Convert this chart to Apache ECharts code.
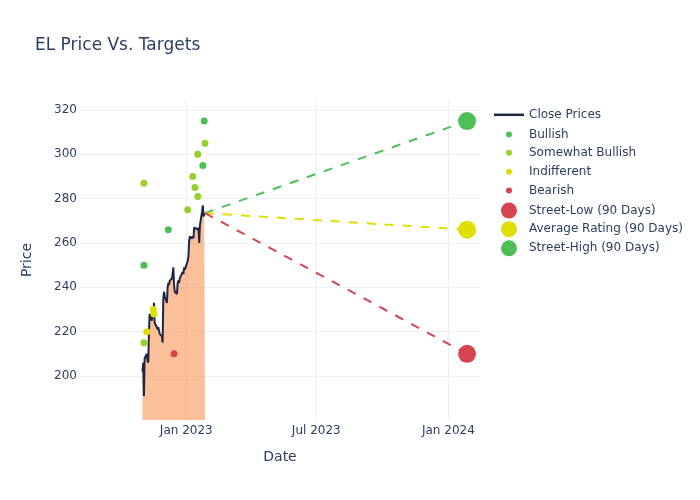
<!DOCTYPE html>
<html><head><meta charset="utf-8">
<script src="https://cdn.jsdelivr.net/npm/echarts@6/dist/echarts.min.js"></script>
<style>html,body{margin:0;padding:0;background:#fff}#c{width:700px;height:500px}</style>
</head><body><div id="c"></div>
<script>
const priceDates = ['2022-11-01','2022-11-02','2022-11-03','2022-11-04','2022-11-07','2022-11-08','2022-11-09','2022-11-10','2022-11-11','2022-11-14','2022-11-15','2022-11-16','2022-11-17','2022-11-18','2022-11-21','2022-11-22','2022-11-23','2022-11-25','2022-11-28','2022-11-29','2022-11-30','2022-12-01','2022-12-02','2022-12-05','2022-12-06','2022-12-07','2022-12-08','2022-12-09','2022-12-12','2022-12-13','2022-12-14','2022-12-15','2022-12-16','2022-12-19','2022-12-20','2022-12-21','2022-12-22','2022-12-23','2022-12-27','2022-12-28','2022-12-29','2022-12-30','2023-01-03','2023-01-04','2023-01-05','2023-01-06','2023-01-09','2023-01-10','2023-01-11','2023-01-12','2023-01-13','2023-01-17','2023-01-18','2023-01-19','2023-01-20','2023-01-23','2023-01-24','2023-01-25','2023-01-26','2023-01-27'];
const closePrices = [202,206,191,208,210,207,206,220,228,225,231,226,233,224,222,221,222,219,218,215,235,238,236,233,240,242,241,243,244,246,249,241,238,237,242,243,242,244,247,246,249,248,252,254,261,263,262,263,262,267,267,266,267,260,268,274,277,272,273,273.5];
const bullishDates = ['2022-11-03','2022-12-07','2023-01-24','2023-01-26'];
const bullishValues = [250,266,295,315];
const somewhatBullishDates = ['2022-11-03','2022-11-03','2023-01-03','2023-01-10','2023-01-13','2023-01-17','2023-01-17','2023-01-27'];
const somewhatBullishValues = [287,215,275,290,285,300,281,305];
const indifferentDates = ['2022-11-07','2022-11-16','2022-11-17'];
const indifferentValues = [220,230,228];
const bearishDates = ['2022-12-15'];
const bearishValues = [210];
const targetDate = '2024-01-27';
const streetLow = 210, averageRating = 266, streetHigh = 315;
const xTickDates = ['2023-01-01','2023-07-01','2024-01-01'];
const xTickLabels = ['Jan 2023','Jul 2023','Jan 2024'];
const yTicks = [200,220,240,260,280,300,320];

const ts = s => { const p = s.split('-').map(Number); return Date.UTC(p[0], p[1]-1, p[2]); };
const pair = (d, v) => d.map((x, i) => [ts(x), v[i]]);
const xTickVals = xTickDates.map(ts);
const lastD = ts(priceDates[priceDates.length-1]);
const lastP = closePrices[closePrices.length-1];

const FONT = 'DejaVu Sans';
const TXT = '#2a3f5f';
const GRID = '#EBF0F8';
const C_BULL = '#4DBF56', C_SB = '#97CF2B', C_IND = '#E0DE00', C_BEAR = '#D6454F', C_LINE = '#1d2744';

function leg(name, top, h, icon, left) {
  return { data: [name], left: left, top: top, itemWidth: 30, itemHeight: h, icon: icon, padding: 0,
    symbolKeepAspect: false,
    selectedMode: false, textStyle: { fontSize: 12, color: TXT, fontFamily: FONT } };
}

const option = {
  animation: false,
  backgroundColor: '#fff',
  title: { text: 'EL Price Vs. Targets', left: 35, top: 37, padding: 0,
    textStyle: { fontSize: 17, fontWeight: 'normal', color: TXT, fontFamily: FONT } },
  grid: { left: 80, right: 220, top: 100, bottom: 80, containLabel: false },
  legend: [
    leg('Close Prices', 108.8, 2.5, 'rect', 494),
    leg('Bullish', 128.5, 6, 'circle', 506),
    leg('Somewhat Bullish', 146.8, 6, 'circle', 506),
    leg('Indifferent', 165.8, 6, 'circle', 506),
    leg('Bearish', 184.5, 6, 'circle', 506),
    leg('Street-Low (90 Days)', 202.5, 16, 'circle', 501),
    leg('Average Rating (90 Days)', 221.2, 16, 'circle', 501),
    leg('Street-High (90 Days)', 240.3, 16, 'circle', 501)
  ],
  xAxis: {
    type: 'value', min: ts('2022-08-06'), max: ts('2024-02-14'),
    name: 'Date', nameLocation: 'middle', nameGap: 30,
    nameTextStyle: { fontSize: 14, color: TXT, fontFamily: FONT },
    axisLine: { show: false },
    axisTick: { show: false, customValues: xTickVals },
    axisLabel: { customValues: xTickVals, margin: 5, fontSize: 12, color: TXT, fontFamily: FONT,
      formatter: v => { const i = xTickVals.indexOf(v); return i >= 0 ? xTickLabels[i] : ''; } },
    splitLine: { show: true, lineStyle: { color: GRID, width: 1 } }
  },
  yAxis: {
    type: 'value', min: 180.15, max: 324.5,
    name: 'Price', nameLocation: 'middle', nameGap: 46,
    nameTextStyle: { fontSize: 14, color: TXT, fontFamily: FONT },
    axisLine: { show: false },
    axisTick: { show: false, customValues: yTicks },
    axisLabel: { customValues: yTicks, margin: 3, fontSize: 12, color: TXT, fontFamily: FONT },
    splitLine: { show: true, lineStyle: { color: GRID, width: 1 } }
  },
  series: [
    { name: 'Close Prices', type: 'line', data: pair(priceDates, closePrices), showSymbol: false, symbol: 'none',
      color: C_LINE, itemStyle: { color: C_LINE },
      lineStyle: { color: C_LINE, width: 2 },
      areaStyle: { color: 'rgba(247,127,53,0.5)', opacity: 1, origin: 'start' }, z: 2 },
    { name: 'hiLine', type: 'line', data: [[lastD, lastP], [ts(targetDate), streetHigh]], symbol: 'none',
      lineStyle: { color: C_BULL, width: 2, type: [9, 9] }, z: 3 },
    { name: 'avgLine', type: 'line', data: [[lastD, lastP], [ts(targetDate), averageRating]], symbol: 'none',
      lineStyle: { color: C_IND, width: 2, type: [9, 9] }, z: 3 },
    { name: 'lowLine', type: 'line', data: [[lastD, lastP], [ts(targetDate), streetLow]], symbol: 'none',
      lineStyle: { color: C_BEAR, width: 2, type: [9, 9] }, z: 3 },
    { name: 'Bullish', type: 'scatter', data: pair(bullishDates, bullishValues), symbolSize: 7,
      itemStyle: { color: C_BULL, opacity: 1 }, z: 4 },
    { name: 'Somewhat Bullish', type: 'scatter', data: pair(somewhatBullishDates, somewhatBullishValues), symbolSize: 7,
      itemStyle: { color: C_SB, opacity: 1 }, z: 4 },
    { name: 'Indifferent', type: 'scatter', data: pair(indifferentDates, indifferentValues), symbolSize: 7,
      itemStyle: { color: C_IND, opacity: 1 }, z: 4 },
    { name: 'Bearish', type: 'scatter', data: pair(bearishDates, bearishValues), symbolSize: 7,
      itemStyle: { color: C_BEAR, opacity: 1 }, z: 4 },
    { name: 'Street-Low (90 Days)', type: 'scatter', data: [[ts(targetDate), streetLow]], symbolSize: 18,
      itemStyle: { color: C_BEAR, opacity: 1 }, z: 5 },
    { name: 'Average Rating (90 Days)', type: 'scatter', data: [[ts(targetDate), averageRating]], symbolSize: 18,
      itemStyle: { color: C_IND, opacity: 1 }, z: 5 },
    { name: 'Street-High (90 Days)', type: 'scatter', data: [[ts(targetDate), streetHigh]], symbolSize: 18,
      itemStyle: { color: C_BULL, opacity: 1 }, z: 5 }
  ]
};
const chart = echarts.init(document.getElementById('c'), null, { renderer: 'canvas' });
chart.setOption(option);
</script></body></html>
